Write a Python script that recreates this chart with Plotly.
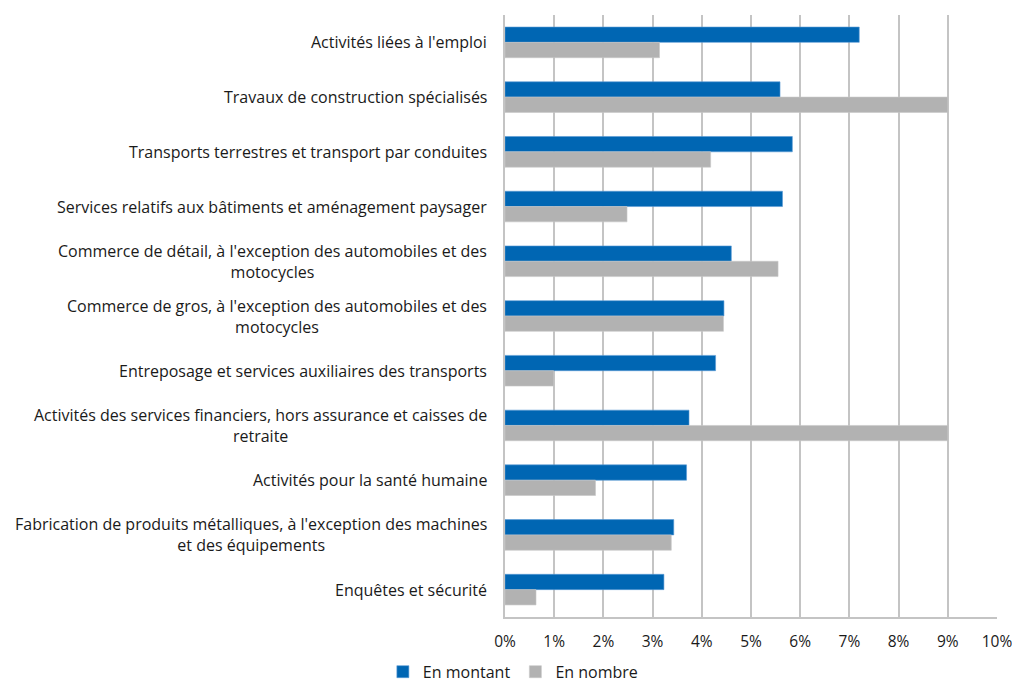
import plotly.graph_objects as go

categories = [
    "Activités liées à l'emploi",
    "Travaux de construction spécialisés",
    "Transports terrestres et transport par conduites",
    "Services relatifs aux bâtiments et aménagement paysager",
    "Commerce de détail, à l'exception des automobiles et des<br>motocycles",
    "Commerce de gros, à l'exception des automobiles et des<br>motocycles",
    "Entreposage et services auxiliaires des transports",
    "Activités des services financiers, hors assurance et caisses de<br>retraite",
    "Activités pour la santé humaine",
    "Fabrication de produits métalliques, à l'exception des machines<br>et des équipements",
    "Enquêtes et sécurité",
]
en_montant = [7.2, 5.59, 5.84, 5.64, 4.6, 4.45, 4.28, 3.74, 3.69, 3.43, 3.23]
en_nombre = [3.14, 9.0, 4.18, 2.48, 5.55, 4.44, 0.99, 9.0, 1.84, 3.38, 0.63]

FONT = "Open Sans"
FS = 16

fig = go.Figure()
fig.add_trace(go.Bar(y=categories, x=en_montant, orientation="h", name="En montant",
                     marker=dict(color="#0066B3", line=dict(color="#5B9BD5", width=0.6))))
fig.add_trace(go.Bar(y=categories, x=en_nombre, orientation="h", name="En nombre",
                     marker=dict(color="#B2B2B2", line=dict(color="#C8C8C8", width=0.6))))

for c in categories:
    fig.add_annotation(x=0, y=c, xref="paper", yref="y", text=c, showarrow=False,
                       xanchor="right", yanchor="middle", align="center", xshift=-16,
                       font=dict(family=FONT, size=FS, color="#1a1a1a"))

fig.update_layout(
    width=1012, height=683,
    margin=dict(l=505, r=15, t=15, b=66, autoexpand=False),
    paper_bgcolor="white", plot_bgcolor="white",
    barmode="group", bargap=0.44, bargroupgap=0,
    font=dict(family=FONT, size=FS, color="#1a1a1a"),
    legend=dict(orientation="h", x=0.016, xanchor="center", y=-0.091, yanchor="middle",
                font=dict(family=FONT, size=FS, color="#1a1a1a"),
                itemwidth=30, traceorder="normal"),
    xaxis=dict(range=[0, 10], dtick=1, ticksuffix="%", showgrid=True,
               gridcolor="#C4C4C4", gridwidth=1.5, zeroline=False,
               showline=True, linecolor="#C4C4C4", linewidth=1.5,
               ticks="", ticklabelstandoff=10, automargin=False,
               ticklabeloverflow="allow",
               tickfont=dict(family=FONT, size=15.5, color="#1a1a1a")),
    yaxis=dict(autorange="reversed", showticklabels=False, showgrid=False,
               showline=True, linecolor="#C4C4C4", linewidth=1.5, ticks="",
               automargin=False),
)

fig.write_html("out.html", config={"displayModeBar": False},
               post_script="document.body.style.margin='0';document.body.style.overflow='hidden';")
